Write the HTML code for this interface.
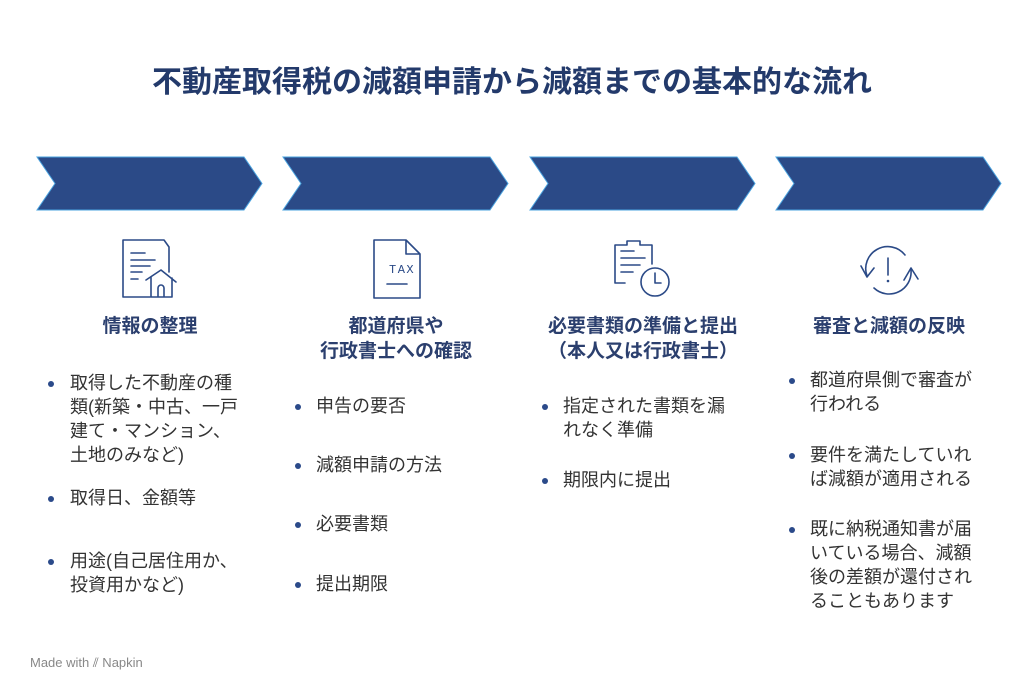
<!DOCTYPE html>
<html><head><meta charset="utf-8"><style>
body{margin:0;width:1024px;height:698px;background:#fff;position:relative;overflow:hidden;font-family:"Liberation Sans","Noto Sans CJK JP",sans-serif}
.t{position:absolute;white-space:nowrap}
.title{left:0;width:1024px;text-align:center;top:57px;font-size:30px;font-weight:bold;color:#233a6b}
.h{font-size:19px;font-weight:bold;color:#2b3f6e;text-align:center;width:240px;line-height:25px}
.b{font-size:18px;color:#333;line-height:24px}
.d{position:absolute;width:6px;height:6px;border-radius:3px;background:#2b4a8a}
</style></head><body>
<div class="t title">不動産取得税の減額申請から減額までの基本的な流れ</div>
<svg width="1024" height="698" style="position:absolute;left:0;top:0">
<g fill="#2b4a87" stroke="#4aa3df" stroke-width="1">
<polygon points="37,157 244,157 262,183.5 244,210 37,210 55,183.5"/>
<polygon points="283,157 490,157 508,183.5 490,210 283,210 301,183.5"/>
<polygon points="530,157 737,157 755,183.5 737,210 530,210 548,183.5"/>
<polygon points="776,157 983,157 1001,183.5 983,210 776,210 794,183.5"/>
</g>
<g fill="none" stroke="#2b4a87" stroke-width="1.6" stroke-linejoin="round" stroke-linecap="round">
<path d="M150,297 H123 V240 H164 L169,247 V272"/>
<path d="M131,253 H145 M131,260 H155 M131,266 H150 M131,272 H142 M131,279 H138"/>
<path d="M146,280 L161,270 L176,282 M151,277 V297 H172 V278 M158,297 V288 A3,3 0 0 1 164,288 V297"/>
<path d="M374,240 H406 L420,254 V298 H374 Z M406,240 V254 H420"/>
<path d="M387,284 H407"/>
<path d="M625,283 H615 V245 H627 V241 H640 V245 H652 V264"/>
<path d="M621,251 H634 M621,258 H645 M621,265 H640 M621,272 H633"/>
<circle cx="655" cy="282" r="14"/>
<path d="M655,273 V283 H661"/>
<path d="M867,276 A22,22 0 0 1 905,255"/>
<path d="M911,270 A22,22 0 0 1 874,288"/>
<path d="M861,266 L867,277 L874,268 M904,280 L911,268 L918,279"/>
<path d="M888,258 V275"/>
</g>
<circle cx="888" cy="281" r="1.3" fill="#2b4a87"/>
<text x="389" y="273" font-family="Liberation Mono,monospace" font-size="12" fill="#2b4a87" letter-spacing="1.5">TAX</text>
</svg>
<div class="t h" style="left:30px;top:314px">情報の整理</div>
<div class="t h" style="left:276px;top:314px">都道府県や<br>行政書士への確認</div>
<div class="t h" style="left:523px;top:314px">必要書類の準備と提出<br>（本人又は行政書士）</div>
<div class="t h" style="left:769px;top:314px">審査と減額の反映</div>

<div class="d" style="left:48px;top:381px"></div>
<div class="t b" style="left:70px;top:371px">取得した不動産の種<br>類(新築・中古、一戸<br>建て・マンション、<br>土地のみなど)</div>
<div class="d" style="left:48px;top:496px"></div>
<div class="t b" style="left:70px;top:486px">取得日、金額等</div>
<div class="d" style="left:48px;top:559px"></div>
<div class="t b" style="left:70px;top:549px">用途(自己居住用か、<br>投資用かなど)</div>

<div class="d" style="left:295px;top:404px"></div>
<div class="t b" style="left:316px;top:394px">申告の要否</div>
<div class="d" style="left:295px;top:463px"></div>
<div class="t b" style="left:316px;top:453px">減額申請の方法</div>
<div class="d" style="left:295px;top:522px"></div>
<div class="t b" style="left:316px;top:512px">必要書類</div>
<div class="d" style="left:295px;top:582px"></div>
<div class="t b" style="left:316px;top:572px">提出期限</div>

<div class="d" style="left:542px;top:404px"></div>
<div class="t b" style="left:563px;top:394px">指定された書類を漏<br>れなく準備</div>
<div class="d" style="left:542px;top:478px"></div>
<div class="t b" style="left:563px;top:468px">期限内に提出</div>

<div class="d" style="left:789px;top:378px"></div>
<div class="t b" style="left:810px;top:368px">都道府県側で審査が<br>行われる</div>
<div class="d" style="left:789px;top:453px"></div>
<div class="t b" style="left:810px;top:443px">要件を満たしていれ<br>ば減額が適用される</div>
<div class="d" style="left:789px;top:527px"></div>
<div class="t b" style="left:810px;top:517px">既に納税通知書が届<br>いている場合、減額<br>後の差額が還付され<br>ることもあります</div>

<div class="t" style="left:30px;top:655px;font-size:13px;color:#888">Made with <span style="color:#777">⫽</span> Napkin</div>
</body></html>
